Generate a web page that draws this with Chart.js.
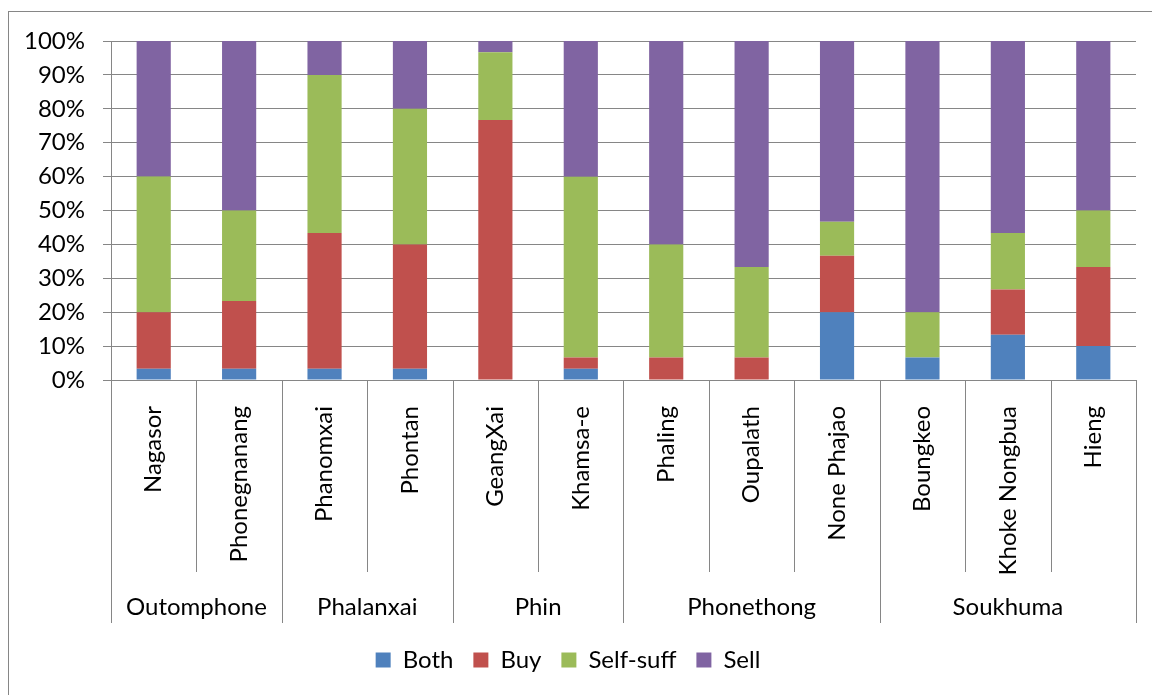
<!DOCTYPE html>
<html>
<head>
<meta charset="utf-8">
<script src="https://cdn.jsdelivr.net/npm/chart.js@4.4.0/dist/chart.umd.min.js"></script>
<style>
  html, body { margin: 0; padding: 0; background: #fff; }
  #wrap { position: relative; width: 1152px; height: 695px; overflow: hidden; }
  #wrap canvas { position: absolute; left: 0; top: 0; }
  #frame { position: absolute; left: 8px; top: 11px; width: 1200px; height: 800px; border: 1px solid #868686; pointer-events: none; }
</style>
</head>
<body>
<div id="wrap">
  <canvas id="chart" width="1152" height="695"></canvas>
  <div id="frame"></div>
</div>
<script>
// villages (bottom axis) and their districts
const villages = ['Nagasor', 'Phonegnanang', 'Phanomxai', 'Phontan', 'GeangXai', 'Khamsa-e',
                  'Phaling', 'Oupalath', 'None Phajao', 'Boungkeo', 'Khoke Nongbua', 'Hieng'];
const groups = ['Outomphone', 'Phalanxai', 'Phin', 'Phonethong', 'Soukhuma'];
const groupSizes = [2, 2, 2, 3, 3];

// share of households, %
const both     = [3.33, 3.33, 3.33, 3.33, 0, 3.33, 0, 0, 20, 6.67, 13.33, 10];
const buy      = [16.67, 20, 40, 36.67, 76.67, 3.33, 6.67, 6.67, 16.67, 0, 13.33, 23.33];
const selfSuff = [40, 26.67, 46.67, 40, 20, 53.33, 33.33, 26.67, 10, 13.33, 16.67, 16.67];
const sell     = [40, 50, 10, 20, 3.33, 40, 60, 66.67, 53.33, 80, 56.67, 50];

const seriesNames = ['Both', 'Buy', 'Self-suff', 'Sell'];
const seriesColors = ['#4F81BD', '#C0504D', '#9BBB59', '#8064A2'];

const FONT = 'Lato';
const axisColor = '#868686';

// draws the two-level category axis: separators + district names
const groupAxis = {
  id: 'groupAxis',
  afterDraw(chart) {
    const { ctx, chartArea } = chart;
    const x = chart.scales.x;
    const step = x.getPixelForValue(1) - x.getPixelForValue(0);
    const edge = i => x.getPixelForValue(i) - step / 2;
    const top = chartArea.bottom;
    const groupEdges = new Set([0]);
    let acc = 0;
    groupSizes.forEach(n => { acc += n; groupEdges.add(acc); });

    ctx.save();
    ctx.strokeStyle = axisColor;
    ctx.lineWidth = 1;
    for (let i = 0; i <= villages.length; i++) {
      const px = Math.round(edge(i)) + 0.5;
      ctx.beginPath();
      ctx.moveTo(px, top);
      ctx.lineTo(px, top + (groupEdges.has(i) ? 243 : 192));
      ctx.stroke();
    }
    ctx.fillStyle = '#000';
    ctx.font = '24px ' + FONT;
    ctx.textAlign = 'center';
    ctx.textBaseline = 'middle';
    let start = 0;
    groups.forEach((g, k) => {
      const end = start + groupSizes[k];
      ctx.fillText(g, (edge(start) + edge(end)) / 2, top + 227);
      start = end;
    });
    ctx.restore();
  }
};

new Chart(document.getElementById('chart'), {
  type: 'bar',
  data: {
    labels: villages,
    datasets: [both, buy, selfSuff, sell].map((d, i) => ({
      label: seriesNames[i],
      data: d,
      backgroundColor: seriesColors[i],
      borderWidth: 0,
      barPercentage: 0.4,
      categoryPercentage: 1
    }))
  },
  options: {
    responsive: false,
    animation: false,
    layout: { padding: { left: 0, top: 41, right: 16, bottom: 13 } },
    plugins: {
      tooltip: { enabled: false },
      legend: {
        position: 'bottom',
        labels: {
          color: '#000',
          font: { family: FONT, size: 24 },
          boxWidth: 15,
          boxHeight: 15,
          padding: 20
        }
      }
    },
    scales: {
      x: {
        stacked: true,
        grid: { display: false },
        border: { display: true, color: axisColor },
        ticks: {
          color: '#000',
          font: { family: FONT, size: 24 },
          minRotation: 90,
          maxRotation: 90,
          autoSkip: false,
          padding: 18
        },
        afterFit: s => { s.height = 248; }
      },
      y: {
        stacked: true,
        min: 0,
        max: 100,
        grid: { color: axisColor, tickLength: 8 },
        border: { display: true, color: axisColor },
        ticks: {
          stepSize: 10,
          color: '#000',
          font: { family: FONT, size: 24 },
          padding: 18,
          callback: v => v + '%'
        },
        afterFit: s => { s.width = 111; }
      }
    }
  },
  plugins: [groupAxis]
});
</script>
</body>
</html>
